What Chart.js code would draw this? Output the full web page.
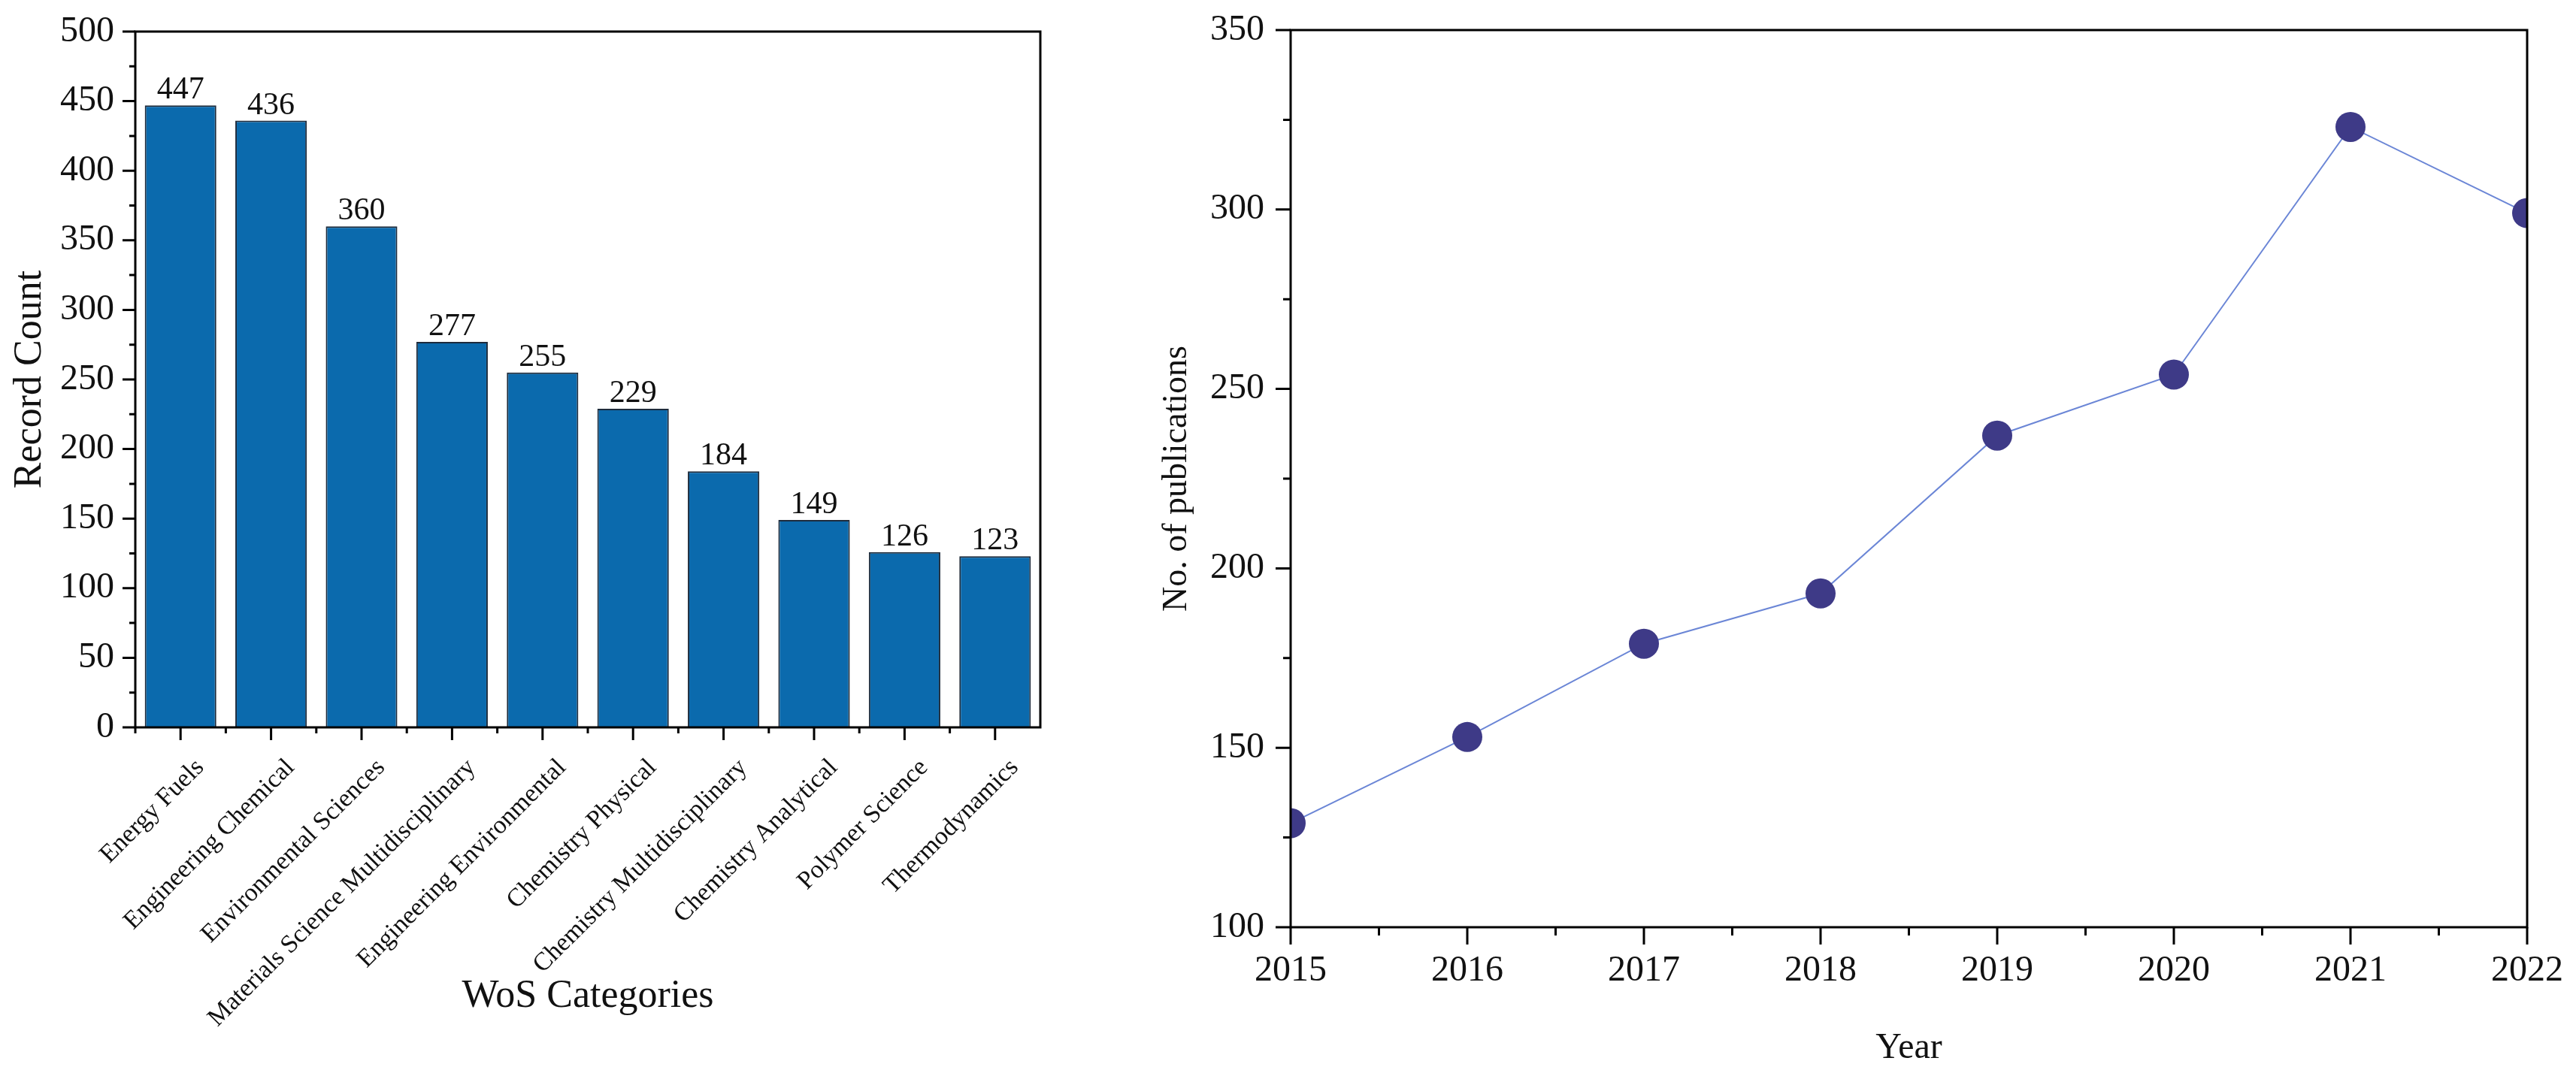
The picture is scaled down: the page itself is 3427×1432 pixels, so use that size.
<!DOCTYPE html>
<html>
<head>
    <title>WoS categories and publications per year</title>
    <script src="https://cdn.jsdelivr.net/npm/chart.js"></script>
    <style>
        body { margin: 0; background: white; }
        .box { position: absolute; top: 0; }
    </style>
</head>
<body>
    <div class="box" style="left:0px"><canvas id="barChart" width="1440" height="1432"></canvas></div>
    <div class="box" style="left:1500px"><canvas id="lineChart" width="1927" height="1432"></canvas></div>

    <script>
        // left panel: record count per WoS category
        const categories = ["Energy Fuels", "Engineering Chemical", "Environmental Sciences",
            "Materials Science Multidisciplinary", "Engineering Environmental", "Chemistry Physical",
            "Chemistry Multidisciplinary", "Chemistry Analytical", "Polymer Science", "Thermodynamics"];
        const recordCounts = [447, 436, 360, 277, 255, 229, 184, 149, 126, 123];

        // right panel: publications per year
        const years = [2015, 2016, 2017, 2018, 2019, 2020, 2021, 2022];
        const publications = [129, 153, 179, 193, 237, 254, 323, 299];

        const FONT = '"Liberation Serif", "Times New Roman", serif';
        Chart.defaults.font.family = FONT;
        Chart.defaults.color = "#111";

        function f(size) { return { family: FONT, size: size }; }

        // box frame + outward major/minor ticks (origin style)
        const frameTicks = {
            id: "frameTicks",
            afterDraw(chart, args, opts) {
                const ctx = chart.ctx;
                const a = chart.chartArea;
                const x = chart.scales.x, y = chart.scales.y;
                ctx.save();
                ctx.strokeStyle = "#000";
                ctx.lineWidth = 3;
                ctx.strokeRect(a.left, a.top, a.right - a.left, a.bottom - a.top);
                ctx.beginPath();
                const yt = y.ticks.map(t => t.value);
                yt.forEach((v, i) => {
                    const p = y.getPixelForValue(v);
                    ctx.moveTo(a.left, p); ctx.lineTo(a.left - opts.yMajor, p);
                    if (i < yt.length - 1) {
                        const m = y.getPixelForValue((v + yt[i + 1]) / 2);
                        ctx.moveTo(a.left, m); ctx.lineTo(a.left - opts.yMinor, m);
                    }
                });
                if (x.type === "category") {
                    x.ticks.forEach((t, i) => {
                        const p = x.getPixelForValue(i);
                        ctx.moveTo(p, a.bottom); ctx.lineTo(p, a.bottom + opts.xMajor);
                        const b = x.getPixelForValue(i - 0.5);
                        ctx.moveTo(b, a.bottom); ctx.lineTo(b, a.bottom + opts.xMinor);
                    });
                } else {
                    const xt = x.ticks.map(t => t.value);
                    xt.forEach((v, i) => {
                        const p = x.getPixelForValue(v);
                        ctx.moveTo(p, a.bottom); ctx.lineTo(p, a.bottom + opts.xMajor);
                        if (i < xt.length - 1) {
                            const m = x.getPixelForValue((v + xt[i + 1]) / 2);
                            ctx.moveTo(m, a.bottom); ctx.lineTo(m, a.bottom + opts.xMinor);
                        }
                    });
                }
                ctx.stroke();
                ctx.restore();
            }
        };

        // value labels above bars
        const barLabels = {
            id: "barLabels",
            afterDatasetsDraw(chart) {
                const ctx = chart.ctx;
                const meta = chart.getDatasetMeta(0);
                ctx.save();
                ctx.font = "42px " + FONT;
                ctx.fillStyle = "#111";
                ctx.textAlign = "center";
                ctx.textBaseline = "alphabetic";
                meta.data.forEach((bar, i) => {
                    ctx.fillText(String(recordCounts[i]), bar.x, bar.y - 9);
                });
                ctx.restore();
            }
        };

        new Chart(document.getElementById("barChart"), {
            type: "bar",
            data: {
                labels: categories,
                datasets: [{
                    data: recordCounts,
                    backgroundColor: "#0b6aad",
                    borderColor: "#1d2b3c",
                    borderWidth: 2,
                    barPercentage: 0.79,
                    categoryPercentage: 1.0
                }]
            },
            options: {
                responsive: false,
                animation: false,
                devicePixelRatio: 1,
                layout: { padding: { top: 42, right: 56, left: 0, bottom: 0 } },
                plugins: {
                    legend: { display: false }, tooltip: { enabled: false },
                    frameTicks: { yMajor: 17, yMinor: 8, xMajor: 17, xMinor: 8 }
                },
                scales: {
                    x: {
                        grid: { display: false, drawTicks: true, tickLength: 34 },
                        border: { display: false },
                        ticks: {
                            autoSkip: false, minRotation: 45, maxRotation: 45, padding: 0,
                            labelOffset: 26, font: f(34), color: "#111"
                        },
                        title: { display: true, text: "WoS Categories", font: f(52), color: "#111", padding: { top: 0, bottom: 74 } },
                        afterFit(s) { s.height = 464; }
                    },
                    y: {
                        min: 0, max: 500,
                        grid: { display: false, drawTicks: true, tickLength: 28 },
                        border: { display: false },
                        ticks: { stepSize: 50, padding: 0, font: f(48), color: "#111" },
                        title: { display: true, text: "Record Count", font: f(52), color: "#111", padding: { top: 9, bottom: 0 } },
                        afterFit(s) { s.width = 180; }
                    }
                }
            },
            plugins: [barLabels, frameTicks]
        });

        new Chart(document.getElementById("lineChart"), {
            type: "line",
            data: {
                datasets: [{
                    data: years.map((yr, i) => ({ x: yr, y: publications[i] })),
                    borderColor: "#6b86d6",
                    borderWidth: 2,
                    tension: 0,
                    pointRadius: 20,
                    pointHoverRadius: 20,
                    pointBackgroundColor: "#3e3a87",
                    pointBorderWidth: 0,
                    clip: 0
                }]
            },
            options: {
                responsive: false,
                animation: false,
                devicePixelRatio: 1,
                layout: { padding: { top: 40, right: 65, left: 0, bottom: 0 } },
                plugins: {
                    legend: { display: false }, tooltip: { enabled: false },
                    frameTicks: { yMajor: 20, yMinor: 10, xMajor: 23, xMinor: 11 }
                },
                scales: {
                    x: {
                        type: "linear", min: 2015, max: 2022,
                        grid: { display: false, drawTicks: true, tickLength: 30 },
                        border: { display: false },
                        ticks: { stepSize: 1, padding: 0, font: f(48), color: "#111", callback: v => String(v) },
                        title: { display: true, text: "Year", font: f(48), color: "#111", padding: { top: 0, bottom: 8 } },
                        afterFit(s) { s.height = 198; }
                    },
                    y: {
                        min: 100, max: 350,
                        grid: { display: false, drawTicks: true, tickLength: 35 },
                        border: { display: false },
                        ticks: { stepSize: 50, padding: 0, font: f(48), color: "#111" },
                        title: { display: true, text: "No. of publications", font: f(46), color: "#111", padding: { top: 38, bottom: 0 } },
                        afterFit(s) { s.width = 217; }
                    }
                }
            },
            plugins: [frameTicks]
        });
    </script>
</body>
</html>
